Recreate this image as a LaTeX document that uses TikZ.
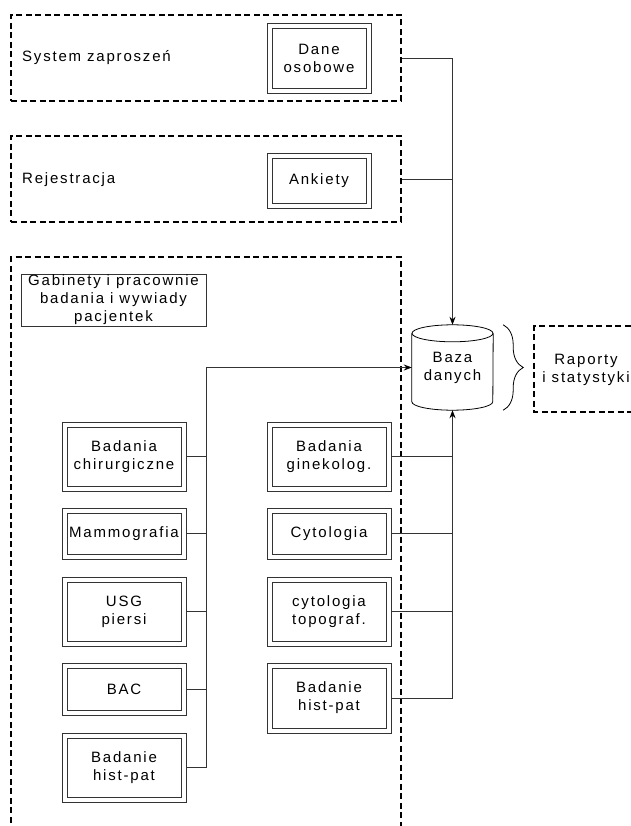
\documentclass[tikz,border=0pt]{standalone}
\usepackage{fontspec}
\setmainfont{Liberation Sans}[LetterSpace=12]
\usetikzlibrary{arrows.meta,decorations.pathreplacing,calc}
\begin{document}
\begin{tikzpicture}[x=1pt,y=-1pt,
  every node/.style={font=\fontsize{15}{18}\selectfont, inner sep=0pt, align=center},
  dbox/.style={draw=black!80, line width=0.8pt, fill=white, minimum width=124pt,
    path picture={\draw[black!80, line width=0.8pt]
      ([xshift=5pt,yshift=-5pt]path picture bounding box.north west) rectangle
      ([xshift=-5pt,yshift=5pt]path picture bounding box.south east);}},
  dashbox/.style={draw=black, line width=1.3pt, dash pattern=on 6pt off 3.5pt},
  conn/.style={draw=black!80, line width=0.8pt},
  arr/.style={conn, -{Stealth[length=8pt,width=6pt,black]}},
  bracestyle/.style={draw=black, line width=0.8pt, decorate, decoration={brace, amplitude=20pt}}
]
\useasboundingbox (0,0) rectangle (630,826);

% dashed groups
\node[dashbox, minimum width=390pt, minimum height=86pt] (sys) at (206,58) {};
\node[dashbox, minimum width=390pt, minimum height=86pt] (rej) at (206,179) {};
\draw[dashbox] (11,832) |- (401,257) -- (401,832);

\node[anchor=west] (sysT) at (22,58) {System zaprosze\'n};
\node[anchor=west] (rejT) at (22,180) {Rejestracja};

\node[dbox, minimum width=104pt, minimum height=70pt] (dane) at (319,58) {Dane\\osobowe};
\node[dbox, minimum width=104pt, minimum height=55pt] (ank) at (319,180.5) {Ankiety};

\node[draw=black!80, line width=0.8pt, minimum width=185pt, minimum height=52pt] (gab) at (113.5,300) {Gabinety i pracownie\\badania i wywiady\\pacjentek};

% database cylinder
\node[minimum width=81pt, minimum height=85pt] (db) at (452.5,367.5) {Baza\\danych};
\draw[conn, draw=black] ($(db.north)+(0,8.5)$) ellipse [x radius=40.5pt, y radius=8.5pt];
\draw[conn, draw=black] ($(db.north west)+(0,8.5)$) -- ($(db.south west)+(0,-8.5)$)
  arc[start angle=180, end angle=360, x radius=40.5pt, y radius=8.5pt]
  -- ($(db.north east)+(0,8.5)$);

\draw[bracestyle] ([xshift=10pt]db.north east) -- ([xshift=10pt]db.south east);

\node (rap) at (586,370) {Raporty\\i statystyki};
\draw[dashbox] (640,326) -| (534,412) -- (640,412);

% left column
\node[dbox, minimum height=69pt] (lchir) at (124,456.5) {Badania\\chirurgiczne};
\node[dbox, minimum height=51pt] (lmam) at (124,533.5) {Mammografia};
\node[dbox, minimum height=69pt] (lusg) at (124,611.5) {USG\\piersi};
\node[dbox, minimum height=52pt] (lbac) at (124,689) {BAC};
\node[dbox, minimum height=69pt] (lhp) at (124,767.5) {Badanie\\hist-pat};

% right column
\node[dbox, minimum height=69pt] (rgin) at (329,456.5) {Badania\\ginekolog.};
\node[dbox, minimum height=51pt] (rcyt) at (329,533.5) {Cytologia};
\node[dbox, minimum height=69pt] (rtop) at (329,611.5) {cytologia\\topograf.};
\node[dbox, minimum height=70pt] (rhp) at (329,698) {Badanie\\hist-pat};

% connectors: top
\draw[arr] (sys.east) -| (db.north);
\draw[conn] (rej.east) -- (rej.east -| db.north);

% connectors: left bus
\coordinate (lbus) at (206,0 |- db.west);
\draw[arr] (lhp.east) -| (lbus) -- (db.west);
\draw[conn] (lchir.east) -- (lchir.east -| lbus);
\draw[conn] (lmam.east) -- (lmam.east -| lbus);
\draw[conn] (lusg.east) -- (lusg.east -| lbus);
\draw[conn] (lbac.east) -- (lbac.east -| lbus);

% connectors: right bus
\draw[arr] (rhp.east) -| (db.south);
\draw[conn] (rgin.east) -- (rgin.east -| db.south);
\draw[conn] (rcyt.east) -- (rcyt.east -| db.south);
\draw[conn] (rtop.east) -- (rtop.east -| db.south);
\end{tikzpicture}
\end{document}
